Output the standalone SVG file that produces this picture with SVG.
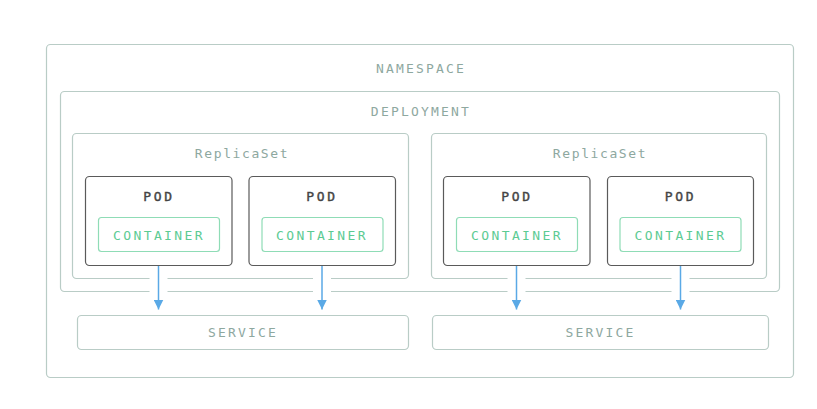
<svg xmlns="http://www.w3.org/2000/svg" width="817" height="409" viewBox="0 0 817 409">
<defs>
<marker id="ah" viewBox="0 0 10 10" refX="10" refY="5" markerWidth="10" markerHeight="10" markerUnits="userSpaceOnUse" orient="auto">
<path d="M0,0 L10,5 L0,10 z" fill="#5aa9e6"/>
</marker>
<style>
text{font-family:"DejaVu Sans Mono","Liberation Mono",monospace;font-size:13px;text-anchor:middle;dominant-baseline:central}
.frame{fill:none;stroke:#b9ccc6;stroke-width:1.2}
.lbl{fill:#8ea89f;letter-spacing:2.2px}
.rs{fill:#8ea89f;letter-spacing:1.6px}
.pod{fill:#fff;stroke:#5a5a5a;stroke-width:1.2}
.podt{fill:#444;stroke:#444;stroke-width:0.4;letter-spacing:2.6px}
.ctr{fill:#fff;stroke:#8fdcb6;stroke-width:1.2}
.ctrt{fill:#5ccb93;letter-spacing:2.4px}
.halo{stroke:#fff;stroke-width:18}
.edge{stroke:#5aa9e6;stroke-width:1.5;fill:none}
</style>
</defs>
<rect width="817" height="409" fill="#fff"/>
<g id="namespace">
<rect class="frame" x="46.5" y="44.5" width="747" height="333" rx="4"/>
<text class="lbl" x="421" y="68">NAMESPACE</text>
</g>
<g id="deployment">
<rect class="frame" x="60.5" y="91.5" width="719" height="200" rx="4"/>
<text class="lbl" x="421" y="111">DEPLOYMENT</text>
</g>
<g id="replicaset-1">
<rect class="frame" x="72.5" y="133.5" width="336" height="145" rx="4"/>
<text class="rs" x="242" y="153">ReplicaSet</text>
</g>
<g id="replicaset-2">
<rect class="frame" x="431.5" y="133.5" width="335" height="145" rx="4"/>
<text class="rs" x="600" y="153">ReplicaSet</text>
</g>
<g id="connector-halos">
<line class="halo" x1="158.5" y1="270" x2="158.5" y2="300"/>
<line class="halo" x1="322" y1="270" x2="322" y2="300"/>
<line class="halo" x1="516.5" y1="270" x2="516.5" y2="300"/>
<line class="halo" x1="680.5" y1="270" x2="680.5" y2="300"/>
</g>
<g id="pod-1">
<rect class="pod" x="85.5" y="176.5" width="146.5" height="89" rx="4"/>
<text class="podt" x="159" y="196">POD</text>
<rect class="ctr" x="98.5" y="217.5" width="121" height="34" rx="3"/>
<text class="ctrt" x="159" y="235">CONTAINER</text>
</g>
<g id="pod-2">
<rect class="pod" x="249" y="176.5" width="146.5" height="89" rx="4"/>
<text class="podt" x="322" y="196">POD</text>
<rect class="ctr" x="262" y="217.5" width="121" height="34" rx="3"/>
<text class="ctrt" x="322" y="235">CONTAINER</text>
</g>
<g id="pod-3">
<rect class="pod" x="443.5" y="176.5" width="146.5" height="89" rx="4"/>
<text class="podt" x="517" y="196">POD</text>
<rect class="ctr" x="456.5" y="217.5" width="121" height="34" rx="3"/>
<text class="ctrt" x="517" y="235">CONTAINER</text>
</g>
<g id="pod-4">
<rect class="pod" x="607.5" y="176.5" width="146" height="89" rx="4"/>
<text class="podt" x="680.5" y="196">POD</text>
<rect class="ctr" x="620" y="217.5" width="121" height="34" rx="3"/>
<text class="ctrt" x="680.5" y="235">CONTAINER</text>
</g>
<g id="service-1">
<rect class="frame" x="77.5" y="315.5" width="331" height="34" rx="4"/>
<text class="lbl" x="243" y="332.5">SERVICE</text>
</g>
<g id="service-2">
<rect class="frame" x="432.5" y="315.5" width="336" height="34" rx="4"/>
<text class="lbl" x="600.5" y="332.5">SERVICE</text>
</g>
<g id="connectors">
<line class="edge" x1="158.5" y1="266" x2="158.5" y2="309.5" marker-end="url(#ah)"/>
<line class="edge" x1="322" y1="266" x2="322" y2="309.5" marker-end="url(#ah)"/>
<line class="edge" x1="516.5" y1="266" x2="516.5" y2="309.5" marker-end="url(#ah)"/>
<line class="edge" x1="680.5" y1="266" x2="680.5" y2="309.5" marker-end="url(#ah)"/>
</g>
</svg>
